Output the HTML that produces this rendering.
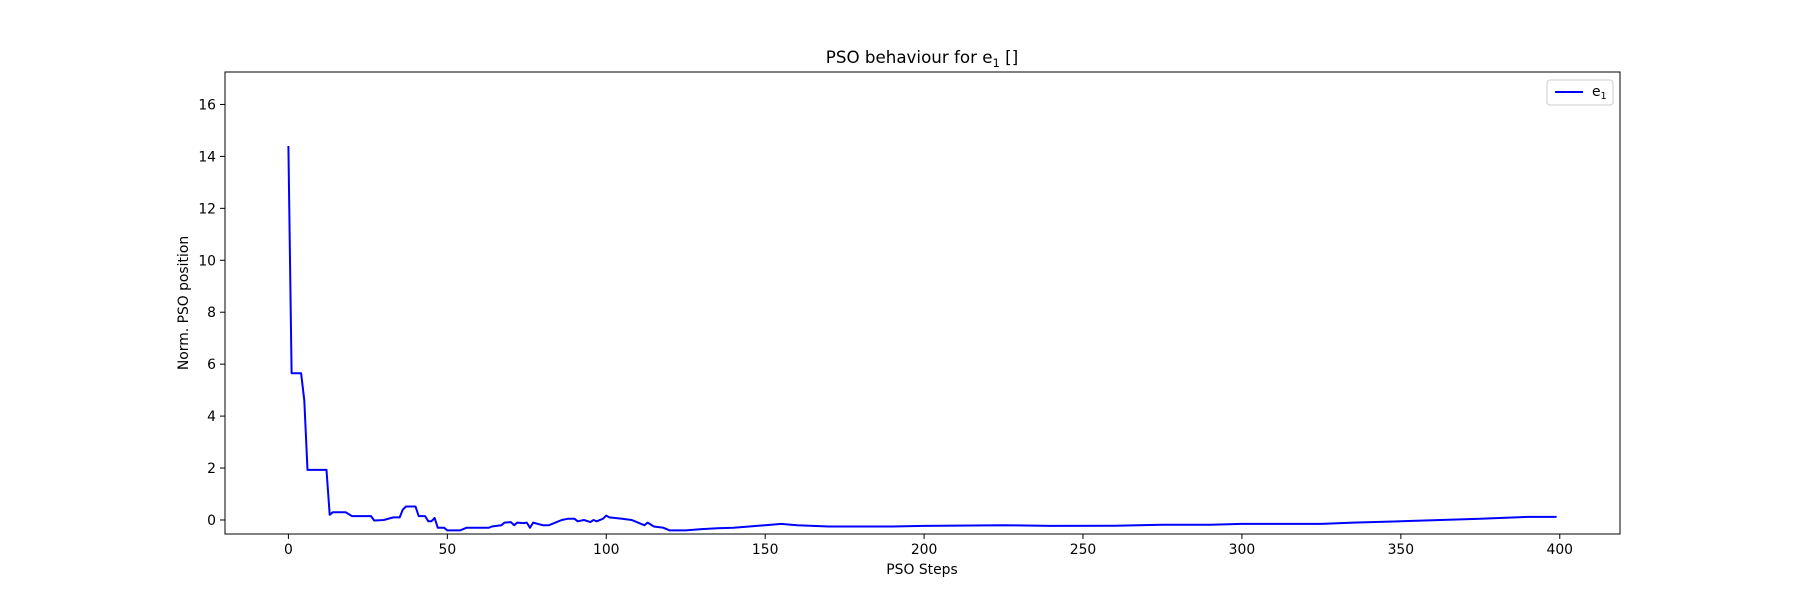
<!DOCTYPE html>
<html><head><meta charset="utf-8"><style>
html,body{margin:0;padding:0;background:#fff;}
svg{display:block;font-family:"DejaVu Sans","Liberation Sans",sans-serif;}
</style></head><body>
<svg id="chart" width="1800" height="600" viewBox="0 0 1800 600">
<rect x="0" y="0" width="1800" height="600" fill="#fff"/>
<g id="ticks"></g>
<polyline id="line" fill="none" stroke="#0000ff" stroke-width="2" stroke-linejoin="round"/>
<rect x="225" y="72" width="1395" height="462" fill="none" stroke="#000" stroke-width="1"/>
<text x="922" y="63" text-anchor="middle" font-size="16.7">PSO behaviour for e<tspan font-size="11.5" dy="4">1</tspan><tspan dy="-4"> []</tspan></text>
<text x="922" y="574" text-anchor="middle" font-size="13.9">PSO Steps</text>
<text transform="translate(188,303) rotate(-90)" text-anchor="middle" font-size="13.9">Norm. PSO position</text>
<g>
<rect x="1547" y="80" width="66" height="25" rx="3" fill="#fff" stroke="#ccc"/>
<line x1="1555" y1="92" x2="1583" y2="92" stroke="#0000ff" stroke-width="2"/>
<text x="1592" y="96" font-size="13.9">e<tspan font-size="9.7" dy="3">1</tspan></text>
</g>
</svg>
<script>
const steps=[0,1,4,5,6,12,13,14,18,20,26,27,30,33,35,36,37,40,41,43,44,45,46,47,49,50,54,56,63,64,67,68,70,71,72,74,75,76,77,80,82,84,86,88,90,91,93,95,96,97,99,100,101,105,108,111,112,113,115,118,120,125,130,135,140,145,150,155,160,170,190,200,225,240,260,275,290,300,325,335,350,375,390,399];
const values=[14.4,5.65,5.65,4.6,1.93,1.93,0.2,0.3,0.3,0.15,0.15,-0.02,0.0,0.1,0.1,0.4,0.52,0.52,0.15,0.15,-0.05,-0.05,0.08,-0.3,-0.3,-0.4,-0.4,-0.3,-0.3,-0.25,-0.2,-0.1,-0.08,-0.2,-0.1,-0.12,-0.1,-0.3,-0.1,-0.2,-0.2,-0.1,0.0,0.05,0.05,-0.05,0.0,-0.08,0.0,-0.05,0.05,0.17,0.1,0.05,0.0,-0.15,-0.2,-0.1,-0.25,-0.3,-0.4,-0.4,-0.35,-0.32,-0.3,-0.25,-0.2,-0.15,-0.2,-0.25,-0.25,-0.23,-0.2,-0.23,-0.22,-0.18,-0.18,-0.15,-0.15,-0.1,-0.05,0.05,0.12,0.12];
const xTicks=[0,50,100,150,200,250,300,350,400];
const yTicks=[0,2,4,6,8,10,12,14,16];
const X0=225,X1=1620,Y0=534,Y1=72,xmin=-19.95,xmax=418.95,ymin=-0.54,ymax=17.25;
function sx(v){return X0+(v-xmin)/(xmax-xmin)*(X1-X0);}
function sy(v){return Y0-(v-ymin)/(ymax-ymin)*(Y0-Y1);}
const NS="http://www.w3.org/2000/svg";
const g=document.getElementById('ticks');
xTicks.forEach(t=>{
  const l=document.createElementNS(NS,'line');
  l.setAttribute('x1',sx(t));l.setAttribute('x2',sx(t));l.setAttribute('y1',Y0);l.setAttribute('y2',Y0+5);l.setAttribute('stroke','#000');
  
  
  g.appendChild(l);
  const tx=document.createElementNS(NS,'text');
  tx.setAttribute('x',sx(t));tx.setAttribute('y',Y0+20);tx.setAttribute('text-anchor','middle');tx.setAttribute('font-size','13.9');
  tx.textContent=t;
  
  
  g.appendChild(tx);
});
yTicks.forEach(t=>{
  const l=document.createElementNS(NS,'line');
  l.setAttribute('x1',X0-5);l.setAttribute('x2',X0);l.setAttribute('y1',sy(t));l.setAttribute('y2',sy(t));l.setAttribute('stroke','#000');
  
  
  g.appendChild(l);
  const tx=document.createElementNS(NS,'text');
  tx.setAttribute('x',X0-9);tx.setAttribute('y',sy(t)+5);tx.setAttribute('text-anchor','end');tx.setAttribute('font-size','13.9');
  tx.textContent=t;
  
  
  g.appendChild(tx);
});
document.getElementById('line').setAttribute('points',steps.map((s,i)=>sx(s).toFixed(1)+','+sy(values[i]).toFixed(1)).join(' '));
</script>
</body></html>
